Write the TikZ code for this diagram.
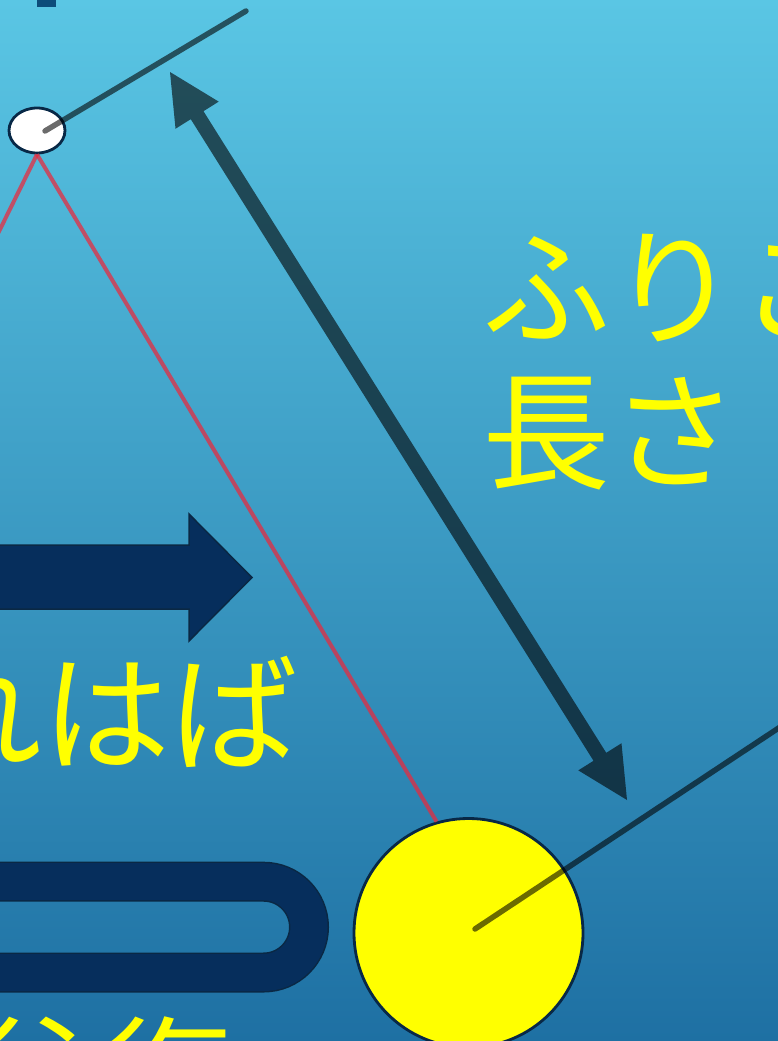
\documentclass[tikz,border=0pt]{standalone}
\usepackage{fontspec}
\newfontfamily\jp{Noto Sans CJK JP}
\usetikzlibrary{calc,shapes.geometric}
\definecolor{bgtop}{RGB}{90,198,228}
\definecolor{bgmid}{RGB}{58,157,200}
\definecolor{bgbot}{RGB}{30,112,163}
\definecolor{navy}{RGB}{6,46,92}
\definecolor{navyline}{RGB}{10,40,68}
\definecolor{rimline}{RGB}{8,40,70}
\definecolor{tabblue}{RGB}{12,76,122}
\definecolor{stringred}{RGB}{235,40,60}
\definecolor{textyellow}{RGB}{255,255,0}
\begin{document}
\begin{tikzpicture}[x=1pt,y=-1pt,
  rodline/.style={line width=5.5pt, draw=black, draw opacity=0.58, line cap=round},
  stringline/.style={line width=4pt, draw=stringred, draw opacity=0.72},
  bigarrow/.style={fill=black, fill opacity=0.6},
  blockshape/.style={fill=navy, draw=navyline, line width=1.5pt, line join=miter},
  jptext/.style={font=\jp\fontsize{128}{150}\selectfont, text=textyellow, inner sep=0pt, anchor=base west}]
\useasboundingbox (0,0) rectangle (778,1041);
\clip (0,0) rectangle (778,1041);
\shade[top color=bgtop, middle color=bgmid, bottom color=bgbot] (0,0) rectangle (778,1041);

% small tab at top left
\fill[tabblue] (37,-5) rectangle (56,7);

% block arrow
\path[blockshape] (-20,545) -- (189,545) -- (189,514) -- (252,577.5) -- (189,641) -- (189,609) -- (-20,609) -- cycle;

% U-turn band
\draw[line width=40pt, draw=navyline, rounded corners=45.4pt] (-30,881.7) -- (309,881.7) -- (309,972.5) -- (-30,972.5);
\draw[line width=37pt, draw=navy, rounded corners=45.4pt] (-30,881.7) -- (309,881.7) -- (309,972.5) -- (-30,972.5);

% double-headed arrow
\coordinate (A) at (170,72);
\coordinate (B) at (627,800);
\coordinate (H1) at ($(A)!51pt!(B)$);
\coordinate (H2) at ($(B)!51pt!(A)$);
\fill[bigarrow] (A) -- ($(H1)!25.5pt!90:(B)$) -- ($(H1)!7.5pt!90:(B)$) -- ($(H2)!7.5pt!-90:(A)$) -- ($(H2)!25.5pt!-90:(A)$) -- (B) -- ($(H2)!25.5pt!90:(A)$) -- ($(H2)!7.5pt!90:(A)$) -- ($(H1)!7.5pt!-90:(B)$) -- ($(H1)!25.5pt!-90:(B)$) -- cycle;

% pivot and bob
\node[ellipse, draw=rimline, fill=white, line width=2.8pt, minimum width=56pt, minimum height=45pt, inner sep=0pt] (pivot) at (37,130.5) {};
\node[circle, draw=rimline, fill=textyellow, line width=2.8pt, minimum size=229pt, inner sep=0pt] (bob) at (468.5,933) {};

% strings
\coordinate (leftend) at (-60,351);
\draw[stringline] (pivot.south) -- (leftend);
\draw[stringline] (pivot.south) -- (bob.106);

% rods
\coordinate (p1) at (45,131);
\coordinate (t1) at (246,11);
\draw[rodline] (p1) -- (t1);
\coordinate (p2) at (475,929);
\coordinate (t2) at (830,694);
\draw[rodline] (p2) -- (t2);

% texts
\node[jptext] (lenA) at (482,335) {ふりこの};
\node[jptext] (lenB) at (482,479) {長さ};
\node[jptext] (amp) at (-214,761) {ふれはば};
\node[jptext] (trip) at (-24,1124) {往復};
\end{tikzpicture}
\end{document}
